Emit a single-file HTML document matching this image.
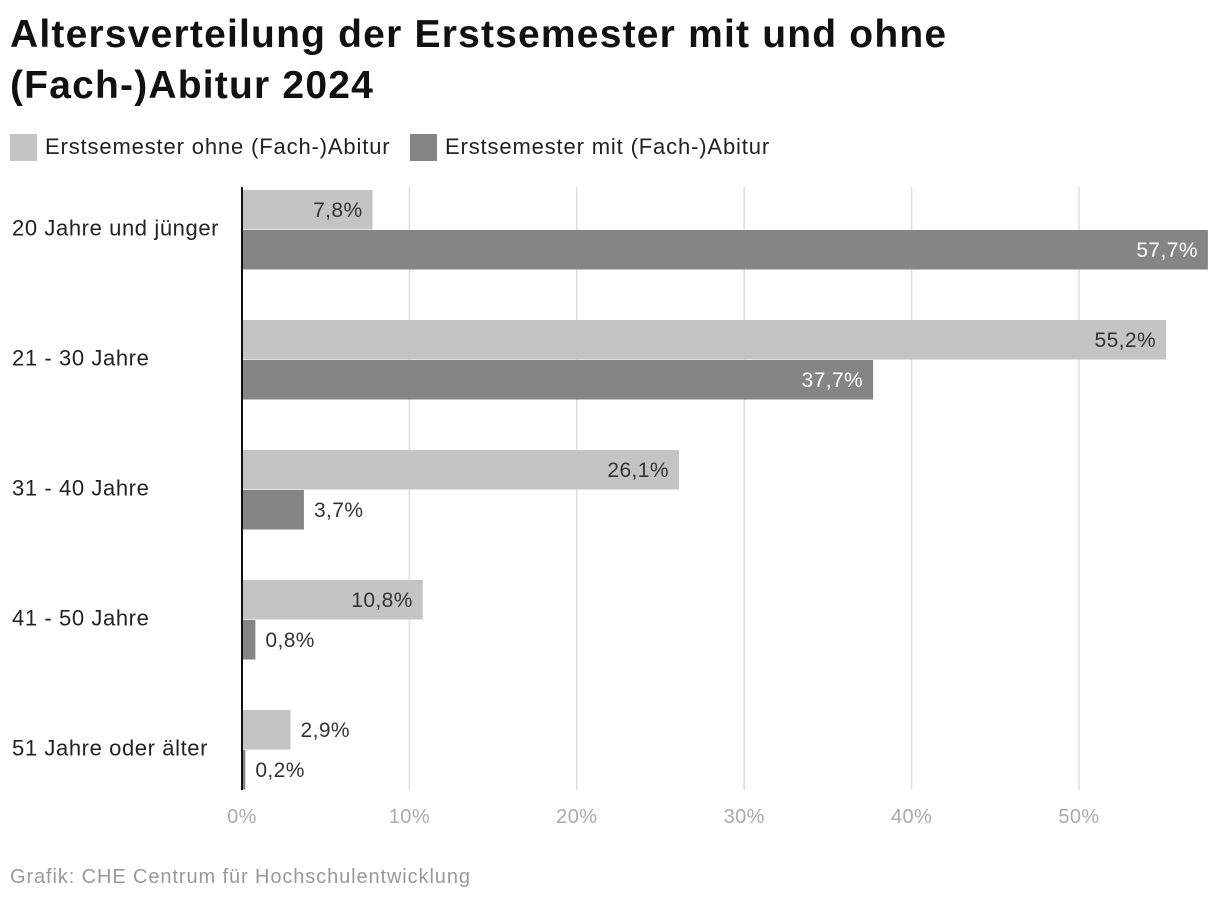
<!DOCTYPE html>
<html><head><meta charset="utf-8">
<style>
body{margin:0;background:#fff;font-family:"Liberation Sans",Arial,sans-serif;}
#wrap{position:relative;width:1220px;height:902px;overflow:hidden;}
h1{position:absolute;left:10px;top:9px;margin:0;font-size:39px;line-height:51px;font-weight:bold;color:#111;letter-spacing:1.2px;}
.leg{position:absolute;top:133px;height:28px;display:flex;align-items:center;font-size:22px;color:#222;letter-spacing:0.85px;}
.sw{width:27px;height:27px;margin-right:8px;}
#foot{position:absolute;left:10px;top:866px;font-size:20px;color:#999;letter-spacing:0.9px;}
svg text{letter-spacing:0.4px;}
</style></head><body>
<div id="wrap">
<h1>Altersverteilung der Erstsemester mit und ohne<br>(Fach-)Abitur 2024</h1>
<div class="leg" style="left:10px"><div class="sw" style="background:#c4c4c4"></div>Erstsemester ohne (Fach-)Abitur</div>
<div class="leg" style="left:410px"><div class="sw" style="background:#858585"></div>Erstsemester mit (Fach-)Abitur</div>
<svg id="svg" width="1220" height="902" style="position:absolute;left:0;top:0"></svg>
<div id="foot">Grafik: CHE Centrum für Hochschulentwicklung</div>
</div>
<script>
const categories=["20 Jahre und jünger","21 - 30 Jahre","31 - 40 Jahre","41 - 50 Jahre","51 Jahre oder älter"];
const ohneValues=[7.8,55.2,26.1,10.8,2.9];
const mitValues=[57.7,37.7,3.7,0.8,0.2];
const tickValues=[0,10,20,30,40,50];
const tickLabels=["0%","10%","20%","30%","40%","50%"];

const NS="http://www.w3.org/2000/svg";
const svg=document.getElementById('svg');
const x0=242,pxPer=16.74,top0=190,groupStep=130,barH=39.5;
function xs(v){return x0+v*pxPer;}
function mk(t,a){const e=document.createElementNS(NS,t);for(const k in a)e.setAttribute(k,a[k]);svg.appendChild(e);return e;}
function fmt(v){return v.toFixed(1).replace('.',',')+'%';}
tickValues.forEach((t,i)=>{
  if(t>0){const g=mk('line',{x1:xs(t),x2:xs(t),y1:187,y2:790,stroke:'#dddddd','stroke-width':1.5});
  
  }
  const tx=mk('text',{x:xs(t),y:823,'text-anchor':'middle','font-size':20,fill:'#aaaaaa'});
  tx.textContent=tickLabels[i];
  
  
});
categories.forEach((c,i)=>{
  const y=top0+i*groupStep;
  const l=mk('text',{x:12,y:y+barH+6,'font-size':22,fill:'#222',style:'letter-spacing:0.6px'});
  l.textContent=c;
  
  
  [[ohneValues[i],'#c4c4c4','#333',y],[mitValues[i],'#858585','#fff',y+barH+0.5]].forEach((s,j)=>{
    const w=xs(s[0])-x0;
    const r=mk('rect',{x:x0,y:s[3],width:w,height:barH,fill:s[1]});
    
    
    const inside=w>100;
    const t=mk('text',{x:inside?xs(s[0])-10:xs(s[0])+10,y:s[3]+barH/2+7,'font-size':21,'text-anchor':inside?'end':'start',fill:inside?s[2]:'#333'});
    t.textContent=fmt(s[0]);
    
    
  });
});
const ax=mk('line',{x1:x0,x2:x0,y1:187,y2:790,stroke:'#111','stroke-width':2});


</script>
</body></html>
